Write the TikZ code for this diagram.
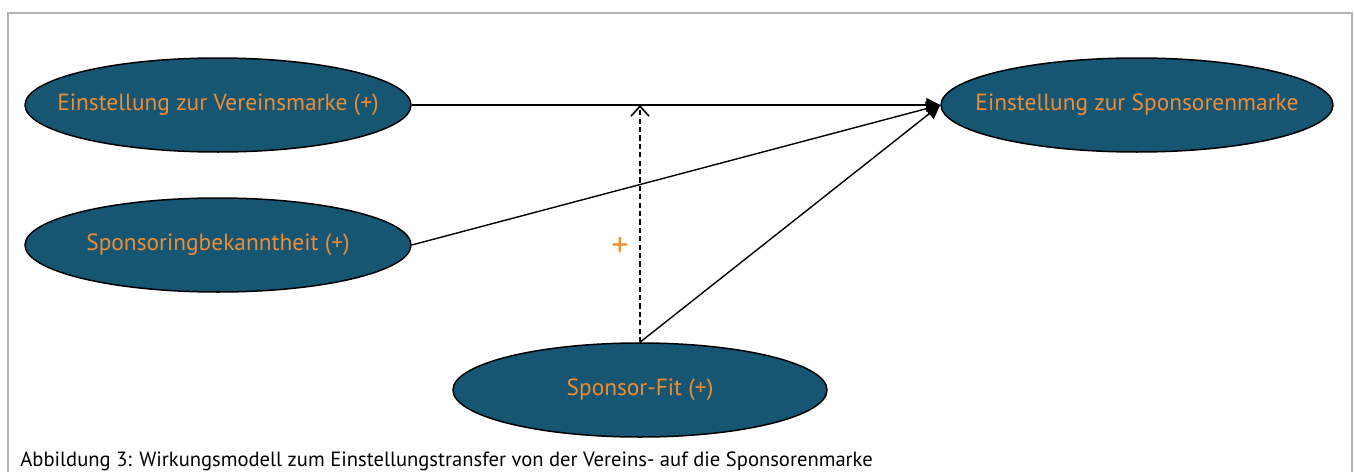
\documentclass[tikz,border=0pt]{standalone}
\usepackage{fontspec}
\setmainfont{PT Sans}
\usetikzlibrary{shapes.geometric}
\usetikzlibrary{arrows.meta}

\definecolor{ovalblue}{RGB}{22,86,115}
\definecolor{ovaltext}{RGB}{240,140,50}
\tikzset{
  oval/.style={ellipse,draw=black,line width=0.75pt,fill=ovalblue,text=ovaltext,
    inner sep=0pt,minimum height=47pt,font=\fontsize{11.7}{14}\selectfont},
  link/.style={line width=0.7pt,-{Triangle[length=7pt,width=7pt]}},
  moderator/.style={line width=0.8pt,dash pattern=on 2.6pt off 1.6pt,-{Straight Barb[length=5pt,width=9pt]}}
}

\begin{document}
\begin{tikzpicture}[x=0.5pt,y=-0.5pt]

\def\lx{218} \def\mx{640} \def\rx{1137}
\def\ay{105} \def\by{245} \def\cy{390}

\useasboundingbox (0,0) rectangle (1354,471);
\draw [color=black!30,line width=0.6pt] (8,490) -- (8,13) -- (1352,13) -- (1352,490);

\node [oval,minimum width=193pt] (vm) at (\lx,\ay) {\makebox[0pt]{Einstellung zur Vereinsmarke (+)}};
\node [oval,minimum width=193pt] (sb) at (\lx,\by) {\makebox[0pt]{Sponsoringbekanntheit (+)}};
\node [oval,minimum width=187pt] (sf) at (\mx,\cy) {\makebox[0pt]{Sponsor-Fit (+)}};
\node [oval,minimum width=196pt] (sm) at (\rx,\ay) {\makebox[0pt]{Einstellung zur Sponsorenmarke}};

\coordinate (hit) at (\mx,\ay);

\draw [link] (vm.east) -- (sm.west);
\draw [link] (sb.east) -- (sm.west);
\draw [link] (sf.north) -- (sm.west);
\draw [moderator] (sf.north) -- (hit);

\node [text=ovaltext,font=\fontsize{17}{18}\selectfont] (plus) at (620,247) {+};

\node [anchor=base west,inner sep=0pt,font=\fontsize{10.3}{12}\selectfont] (caption) at (20,466)
  {Abbildung 3: Wirkungsmodell zum Einstellungstransfer von der Vereins- auf die Sponsorenmarke};
\end{tikzpicture}
\end{document}
